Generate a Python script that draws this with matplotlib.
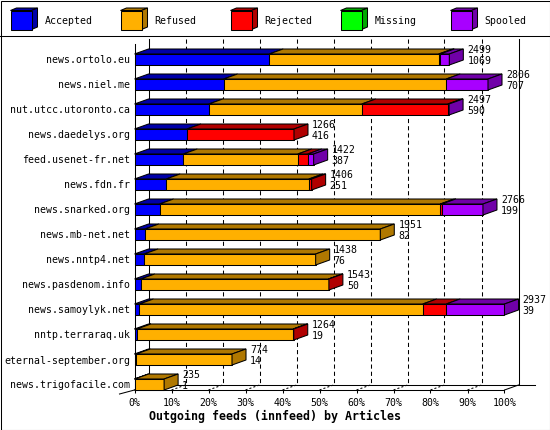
import matplotlib
matplotlib.use("Agg")
import matplotlib.pyplot as plt
from matplotlib.patches import Polygon, Rectangle

# ---------------- data ----------------
categories = ["news.ortolo.eu", "news.niel.me", "nut.utcc.utoronto.ca",
              "news.daedelys.org", "feed.usenet-fr.net", "news.fdn.fr",
              "news.snarked.org", "news.mb-net.net", "news.nntp4.net",
              "news.pasdenom.info", "news.samoylyk.net", "nntp.terraraq.uk",
              "eternal-september.org", "news.trigofacile.com"]
offered = [2499, 2806, 2497, 1266, 1422, 1406, 2766, 1951, 1438, 1543, 2937, 1264, 774, 235]
accepted = [1069, 707, 590, 416, 387, 251, 199, 82, 76, 50, 39, 19, 14, 1]
refused = [1346, 1767, 1214, 0, 909, 1133, 2228, 1869, 1362, 1490, 2249, 1240, 760, 234]
rejected = [12, 0, 683, 850, 79, 22, 12, 0, 0, 3, 186, 5, 0, 0]
missing = [0, 0, 0, 0, 0, 0, 0, 0, 0, 0, 0, 0, 0, 0]
spooled = [72, 332, 10, 0, 47, 0, 327, 0, 0, 0, 463, 0, 0, 0]

series_names = ["Accepted", "Refused", "Rejected", "Missing", "Spooled"]
series_values = [accepted, refused, rejected, missing, spooled]
series_colors = [("#0000FF", "#0000A8"), ("#FFB000", "#B07800"),
                 ("#FF0000", "#B00000"), ("#00FF00", "#00A800"),
                 ("#A800FF", "#7000A8")]
tick_labels = ["0%", "10%", "20%", "30%", "40%", "50%", "60%", "70%", "80%", "90%", "100%"]
xlabel = "Outgoing feeds (innfeed) by Articles"

# ---------------- layout (pixels) ----------------
W, H = 550, 430
FONT = "DejaVu Sans Mono"
FS = 7.1
LW = 0.75
plt.rcParams["lines.scale_dashes"] = False

fig = plt.figure(figsize=(W / 100, H / 100), dpi=100)
fig.patch.set_facecolor("white")

ax_left, ax_right, ax_top, ax_bot = 134.5, 504.5, 44, 390
ax = fig.add_axes([ax_left / W, 1 - ax_bot / H, (ax_right - ax_left) / W, (ax_bot - ax_top) / H])
ax.patch.set_visible(False)

n = len(categories)
XMAX = max(offered)
row_px = 25.0
first_center_px = 59.5
y_top = (ax_top - first_center_px) / row_px
y_bot = (ax_bot - first_center_px) / row_px
ax.set_xlim(0, XMAX)
ax.set_ylim(y_bot, y_top)

px_x = XMAX / (ax_right - ax_left)   # data units per pixel (x)
px_y = 1.0 / row_px                  # data units per pixel (y)
DX = 14 * px_x
DY = 5 * px_y
bar_h = 11 * px_y

# back plane / floor
ax.plot([DX, DX], [y_top - DY, y_bot - DY], color="black", lw=LW, clip_on=False, zorder=1)
ax.plot([XMAX + DX, XMAX + DX], [y_top - DY, y_bot - DY], color="black", lw=LW, clip_on=False, zorder=1)
ax.plot([DX, XMAX + DX + 16 * px_x], [y_bot - DY, y_bot - DY], color="black", lw=LW, clip_on=False, zorder=1)
ax.plot([XMAX, XMAX + DX], [y_bot, y_bot - DY], color="black", lw=LW, clip_on=False, zorder=1)
ax.plot([0, DX], [y_bot, y_bot - DY], color="black", lw=LW, clip_on=False, zorder=1)
ax.plot([0, -15 * px_x], [y_bot, y_bot + 4 * px_y], color="black", lw=LW, clip_on=False, zorder=1)
for k in range(1, 10):
    gx = XMAX * k / 10
    ax.plot([gx + DX, gx + DX], [y_top - DY, y_bot - DY], color="black", lw=LW,
            dashes=(3.0, 2.2), clip_on=False, zorder=1)
    ax.plot([gx, gx + DX], [y_bot, y_bot - DY], color="black", lw=LW,
            dashes=(1.5, 1.5), clip_on=False, zorder=1)


def box(x0, x1, yt, yb, front, dark, side):
    kw = dict(edgecolor="black", linewidth=LW, clip_on=False, zorder=3, joinstyle="miter")
    ax.add_patch(Polygon([(x0, yt), (x1, yt), (x1 + DX, yt - DY), (x0 + DX, yt - DY)],
                         closed=True, facecolor=dark, **kw))
    ax.add_patch(Polygon([(x0, yt), (x1, yt), (x1, yb), (x0, yb)],
                         closed=True, facecolor=front, **kw))
    if side:
        ax.add_patch(Polygon([(x1, yt), (x1 + DX, yt - DY), (x1 + DX, yb - DY), (x1, yb)],
                             closed=True, facecolor=dark, **kw))


for i in range(n):
    yt = i - bar_h / 2
    yb = i + bar_h / 2
    segs = [(vals[i], cols) for vals, cols in zip(series_values, series_colors) if vals[i] > 0]
    start = 0
    for j, (v, (fc, dc)) in enumerate(segs):
        box(start, start + v, yt, yb, fc, dc, j == len(segs) - 1)
        start += v
    tx = start + 18 * px_x
    ax.text(tx, yt - 4 * px_y, str(offered[i]), ha="left", va="center",
            family=FONT, fontsize=FS, zorder=4, clip_on=False)
    ax.text(tx, yt + 7 * px_y, str(accepted[i]), ha="left", va="center",
            family=FONT, fontsize=FS, zorder=4, clip_on=False)

# axes / ticks
for s in ["top", "right"]:
    ax.spines[s].set_visible(False)
for s in ["left", "bottom"]:
    ax.spines[s].set_linewidth(LW)
ax.set_yticks(range(n))
ax.set_yticklabels(categories, family=FONT, fontsize=FS)
ax.tick_params(axis="y", length=0, pad=3.2)
ax.set_xticks([XMAX * k / 10 for k in range(11)])
ax.set_xticklabels(tick_labels, family=FONT, fontsize=FS)
ax.tick_params(axis="x", length=2.5, width=LW, pad=3.6, direction="out")

fig.text(0.5, 1 - 416.7 / H, xlabel, ha="center", va="center",
         family=FONT, fontsize=8.4, fontweight="bold")

# ---------------- overlay: border + legend ----------------
lax = fig.add_axes([0, 0, 1, 1])
lax.set_xlim(0, W)
lax.set_ylim(H, 0)
lax.axis("off")
lax.patch.set_visible(False)
lax.add_patch(Rectangle((0.5, 0.5), W - 1, H - 1, fill=False, edgecolor="black", linewidth=LW))
lax.plot([0, W], [35.5, 35.5], color="black", lw=LW)
for j, (name, (fc, dc)) in enumerate(zip(series_names, series_colors)):
    x0 = 10.5 + 110 * j
    x1 = x0 + 21
    yt, yb = 10.5, 29.5
    dx, dy = 6, 2.5
    kw = dict(edgecolor="black", linewidth=LW, joinstyle="miter")
    lax.add_patch(Polygon([(x0, yt), (x1, yt), (x1 + dx, yt - dy), (x0 + dx, yt - dy)], facecolor=dc, **kw))
    lax.add_patch(Polygon([(x1, yt), (x1 + dx, yt - dy), (x1 + dx, yb - dy), (x1, yb)], facecolor=dc, **kw))
    lax.add_patch(Polygon([(x0, yt), (x1, yt), (x1, yb), (x0, yb)], facecolor=fc, **kw))
    lax.text(x0 + 34, 21, name, ha="left", va="center", family=FONT, fontsize=FS)

fig.savefig("out.png", dpi=100, facecolor="white")
